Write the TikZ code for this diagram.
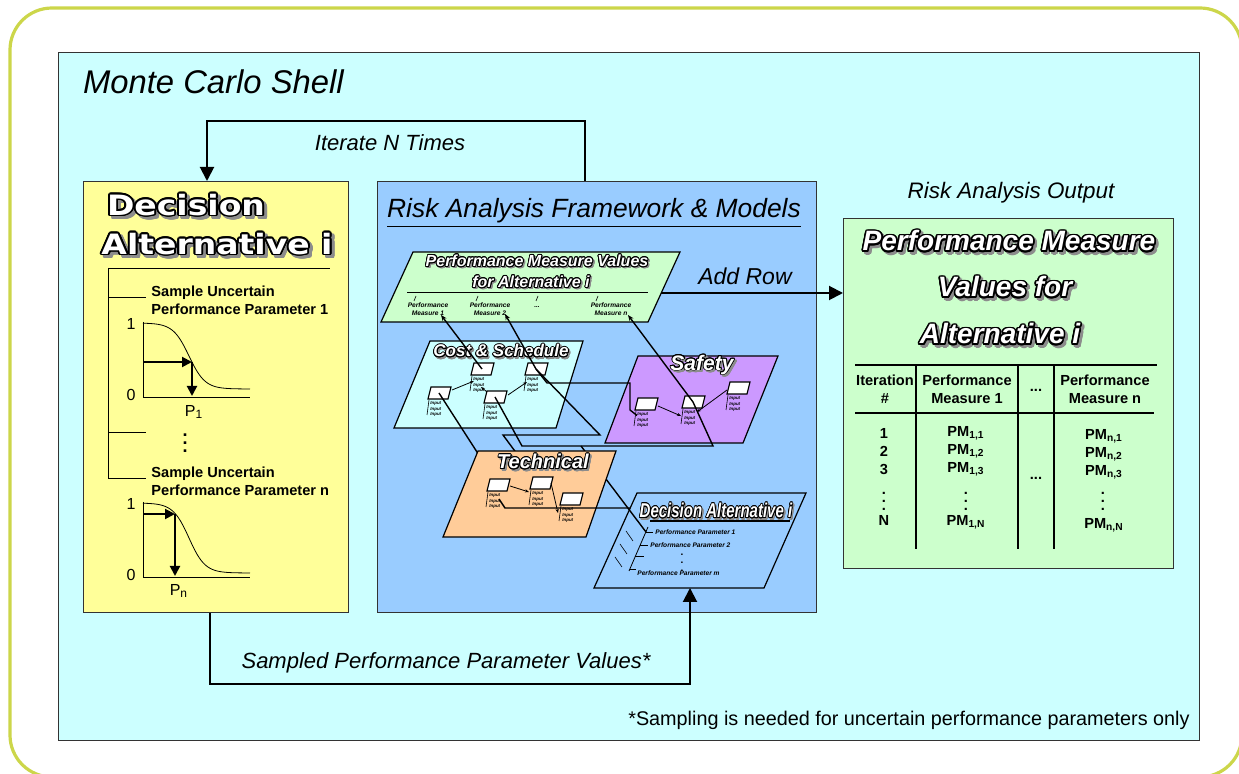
\documentclass[tikz,border=0pt]{standalone}
\usepackage{fontspec}
\setmainfont{Liberation Sans}
\newfontfamily\heavyfont{DejaVu Sans}
\usepackage{graphicx}
\usepackage[copies]{contour}
\usetikzlibrary{arrows.meta}

\definecolor{shellcyan}{HTML}{CCFFFF}
\definecolor{altyellow}{HTML}{FFFF99}
\definecolor{fwblue}{HTML}{99CCFF}
\definecolor{outgreen}{HTML}{CCFFCC}
\definecolor{safetyviolet}{HTML}{CC99FF}
\definecolor{techorange}{HTML}{FFCC99}
\definecolor{framelime}{HTML}{CCD64A}

% white letters, black outline, grey shadow
\newcommand{\wordart}[1]{\makebox[0pt][l]{\hspace{0.09em}\raisebox{-0.09em}{\contour{black!45}{\textcolor{black!45}{#1}}}}\contour{black}{\textcolor{white}{#1}}}
\newcommand{\PMv}[1]{PM\textsubscript{#1}}

% small model box with its inputs
\newcommand{\model}[3]{%
  \filldraw[fill=white, line width=0.6pt] (#2-11,#3+6) -- (#2-8,#3-6) -- (#2+12,#3-6) -- (#2+9,#3+6) -- cycle;
  \coordinate (#1) at (#2,#3);
  \node[inputs] (#1-in) at (#2-9,#3+8) {Input\\Input\\Input};
  \draw[line width=0.3pt] (#2-10,#3+7) -- (#2-12,#3+22);
}

\begin{document}
\begin{tikzpicture}[x=0.5pt, y=-0.5pt,
    panel/.style={draw=black!80, line width=0.6pt, anchor=north west, inner sep=0},
    plane/.style={draw=black, line width=0.6pt},
    flow/.style={line width=1pt, -{Triangle[length=7pt,width=7pt]}},
    link/.style={line width=0.7pt},
    linkarrow/.style={link, -{Stealth[length=3pt,width=2.4pt]}},
    modelarrow/.style={line width=0.4pt, -{Stealth[length=2pt,width=1.6pt]}},
    lbl/.style={font=\fontsize{11}{13}\selectfont\itshape},
    param/.style={font=\fontsize{7.3}{9}\selectfont\bfseries, align=left, anchor=west, inner sep=0},
    axislbl/.style={font=\fontsize{8}{9}\selectfont, inner sep=0},
    cell/.style={font=\fontsize{7.3}{9}\selectfont\bfseries, align=center, inner sep=0},
    inputs/.style={font=\fontsize{2.2}{2.8}\selectfont\bfseries\itshape, align=left, anchor=north west, inner sep=0},
    tiny/.style={font=\fontsize{3.3}{4.2}\selectfont\bfseries\itshape, align=center, inner sep=0},
    planetitle/.style={font=\fontsize{#1}{#1}\selectfont\bfseries\itshape\contourlength{0.45pt}, inner sep=0}]
\useasboundingbox (0,0) rectangle (1239,774);
\clip (0,0) rectangle (1239,774);

\draw[framelime, line width=1.6pt, rounded corners=21pt] (10,8) rectangle (1242,777);
\node[panel, fill=shellcyan, minimum width=570.5pt, minimum height=344pt] (shell) at (58,52) {};
\node[font=\fontsize{16.4}{19}\selectfont\itshape, anchor=west] (shelltitle) at (76,82) {Monte Carlo Shell};

% decision alternative
\node[panel, fill=altyellow, minimum width=132.5pt, minimum height=215.5pt] (dec) at (83,181) {};
\node[font=\heavyfont\bfseries\fontsize{14}{16}\selectfont\contourlength{0.8pt}, inner sep=0] (dectitle1) at (186,207) {\scalebox{1.18}[1]{\wordart{Decision}}};
\node[font=\heavyfont\bfseries\fontsize{14}{16}\selectfont\contourlength{0.8pt}, inner sep=0] (dectitle2) at (217,246) {\scalebox{1.18}[1]{\wordart{Alternative i}}};
\draw (108,268) -- (330,268);
\draw (108,268) -- (108,478);
\foreach \y in {297,432,478}
    \draw (108,\y) -- (146,\y);
\node[param] (par1) at (151,300) {Sample Uncertain\\Performance Parameter 1};
\node[param] (parn) at (151,481) {Sample Uncertain\\Performance Parameter n};
\node[font=\bfseries\fontsize{9}{9}\selectfont, inner sep=0] (pardots) at (185,437) {\vdots};
% first distribution
\draw (143,322) -- (143,397) -- (250,397);
\draw[domain=143:250, samples=60] plot (\x, {323+66/(1+exp(-(\x-189)/8))});
\draw[flow, -{Triangle[length=5pt,width=5pt]}] (143,362) -- (192,362);
\draw[flow, -{Triangle[length=5pt,width=5pt]}] (192,362) -- (192,396);
\node[axislbl] (g1one) at (131,324) {1};
\node[axislbl] (g1zero) at (131,395) {0};
\node[axislbl] (g1p) at (194,412) {P\textsubscript{1}};
% second distribution
\draw (143,502) -- (143,577) -- (250,577);
\draw[domain=143:250, samples=60] plot (\x, {503+70/(1+exp(-(\x-189)/8))});
\draw[flow, -{Triangle[length=5pt,width=5pt]}] (143,514) -- (175,514);
\draw[flow, -{Triangle[length=5pt,width=5pt]}] (175,514) -- (175,576);
\node[axislbl] (g2one) at (131,504) {1};
\node[axislbl] (g2zero) at (131,575) {0};
\node[axislbl] (g2p) at (179,591) {P\textsubscript{n}};

% framework
\node[panel, fill=fwblue, minimum width=219.5pt, minimum height=215.5pt] (fw) at (377,181) {};
\node[font=\fontsize{13.2}{15}\selectfont\itshape, inner sep=0] (fwtitle) at (594,213) {\underline{Risk Analysis Framework \& Models}};

% performance measure values
\filldraw[plane, fill=outgreen] (413,252) -- (680,252) -- (648,322) -- (381,322) -- cycle;
\coordinate (pmv-e) at (661,293);
\node[planetitle=8] (pmvtitle1) at (537,262) {\wordart{Performance Measure Values}};
\node[planetitle=8] (pmvtitle2) at (531,283) {\wordart{for Alternative i}};
\draw[line width=0.5pt] (407,293) -- (648,293);
\foreach \x in {416,478,538,598}
    \draw[line width=0.3pt] (\x,296) -- (\x-2,301);
\node[tiny] (pm1) at (428,309) {Performance\\Measure 1};
\node[tiny] (pm2) at (490,309) {Performance\\Measure 2};
\node[tiny] (pmdots) at (537,307) {...};
\node[tiny] (pmn) at (611,309) {Performance\\Measure n};
\coordinate (m1) at (441,315);
\coordinate (m2) at (505,314);
\coordinate (mn) at (628,315);

% decision alternative plane
\filldraw[plane, fill=fwblue] (637,493) -- (806,493) -- (764,588) -- (594,588) -- cycle;
\coordinate (da-b) at (690,588);
\node[planetitle=10] (datitle) at (716,512) {\scalebox{0.75}[1]{\wordart{Decision Alternative i}}};
\draw[line width=0.8pt] (650,521) -- (790,521);
\node[tiny, anchor=west] (pp1) at (655,532) {Performance Parameter 1};
\node[tiny, anchor=west] (pp2) at (650,545) {Performance Parameter 2};
\node[font=\bfseries\fontsize{5}{5}\selectfont, inner sep=0] (ppdots) at (682,557) {\vdots};
\node[tiny, anchor=west] (ppm) at (637,573) {Performance Parameter m};
\coordinate (dp1) at (646,532);
\draw[line width=0.4pt] (648,527) -- (629,571);
\draw[line width=0.4pt] (646,532) -- (653,532) (640,545) -- (648,545) (635,556) -- (644,556) (630,569) -- (636,569);
\foreach \x/\y in {626/531,620/544,615/557}
    \draw[line width=0.3pt] (\x,\y) -- ++(7,10);

% cost and safety
\filldraw[plane, fill=shellcyan] (430,341) -- (583,341) -- (556,428) -- (394,428) -- cycle;
\node[planetitle=8.5] (costtitle) at (501,352) {\wordart{Cost \& Schedule}};
\filldraw[plane, fill=safetyviolet] (638,356) -- (778,356) -- (743,443) -- (605,443) -- cycle;
\node[planetitle=10.5] (safetytitle) at (702,366) {\wordart{Safety}};
\model{cA}{482}{369}
\model{cB}{536}{369}
\model{cC}{439}{393}
\model{cD}{495}{397}
\draw[modelarrow] ([shift={(13,-3)}]cC) -- ([shift={(-8,12)}]cA);
\draw[modelarrow] ([shift={(-8,-5)}]cD) -- ([shift={(-14,-10)}]cD);
\draw[modelarrow] ([shift={(13,-2)}]cD) -- ([shift={(-9,13)}]cB);
\model{s1}{646}{404}
\model{s2}{693}{402}
\model{s3}{738}{388}
\draw[modelarrow] ([shift={(12,2)}]s1) -- ([shift={(-12,14)}]s2);
\draw[modelarrow] ([shift={(-11,2)}]s3) -- ([shift={(4,10)}]s2);

% links between the models
\draw[linkarrow] (cA) -- (m1);
\draw[linkarrow] (cB) -- (m2);
\draw[linkarrow] (s2) -- (mn);
\draw[link] (cB) -- (600,435) -- (503,435) -- (520,458);
\draw[link] (cB) -- (547,383) -- (630,383) -- (630,410) -- (s1-in);
\draw[link] (cD) -- (522,446) -- (713,446) -- (s2);
\draw[link] (581,446) -- (dp1);
\draw[link] (cC) -- (495,480);

% technical
\filldraw[plane, fill=techorange] (478,451) -- (616,451) -- (586,537) -- (443,537) -- cycle;
\node[planetitle=10] (techtitle) at (543,463) {\wordart{Technical}};
\model{t1}{498}{485}
\model{t2}{541}{483}
\model{t3}{571}{499}
\draw[modelarrow] ([shift={(12,1)}]t1) -- ([shift={(-12,9)}]t2);
\draw[modelarrow] ([shift={(10,0)}]t2) -- ([shift={(-13,14)}]t3);
\draw[link] ([shift={(1,14)}]t1) -- (505,508) -- (630,508);

% output
\node[panel, fill=outgreen, minimum width=165pt, minimum height=175pt] (out) at (843,218) {};
\node[lbl, font=\fontsize{11.2}{13}\selectfont\itshape] (outlbl) at (1011,193) {Risk Analysis Output};
\node[planetitle=14] (outtitle1) at (1009,243) {\contourlength{0.8pt}\wordart{Performance Measure}};
\node[planetitle=14] (outtitle2) at (1005,289) {\contourlength{0.8pt}\wordart{Values for}};
\node[planetitle=14] (outtitle3) at (1000,336) {\contourlength{0.8pt}\wordart{Alternative i}};
\draw[line width=0.6pt] (855,365) -- (1157,365);
\draw[line width=0.6pt] (855,413) -- (1154,413);
\foreach \x in {916,1018,1054}
    \draw[line width=0.6pt] (\x,365) -- (\x,549);
\node[cell] (hit) at (885,389) {Iteration\\\#};
\node[cell] (hpm1) at (967,389) {Performance\\Measure 1};
\node[cell] (hdots) at (1036,390) {...};
\node[cell] (hpmn) at (1105,389) {Performance\\Measure n};
\foreach \r/\y in {1/433,2/451,3/469} {
    \node[cell] (it\r) at (884,\y) {\r};
    \node[cell] (pma\r) at (966,\y) {\PMv{1,\r}};
    \node[cell] (pmn\r) at (1104,\y+3) {\PMv{n,\r}};
}
\node[cell] (itdots) at (884,495) {\vdots};
\node[cell] (pmadots) at (966,495) {\vdots};
\node[cell] (pmndots) at (1103,495) {\vdots};
\node[cell] (rowdots) at (1036,478) {...};
\node[cell] (itN) at (884,520) {N};
\node[cell] (pmaN) at (966,522) {\PMv{1,N}};
\node[cell] (pmnN) at (1104,525) {\PMv{n,N}};

% loop arrows
\draw[flow] (585,0 |- fw.north) |- (207,121) -- (207,0 |- dec.north);
\node[lbl] (iterlbl) at (390,143) {Iterate N Times};
\draw[flow] (pmv-e) -- (out.west |- pmv-e);
\node[lbl, font=\fontsize{11.5}{13}\selectfont\itshape] (addlbl) at (745,276) {Add Row};
\draw[flow] (210,0 |- dec.south) |- (690,684) -- (da-b);
\node[lbl] (samplbl) at (446,663) {Sampled Performance Parameter Values*};
\node[font=\fontsize{9.9}{12}\selectfont, anchor=east, inner sep=0] (footnote) at (1190,720) {*Sampling is needed for uncertain performance parameters only};
\end{tikzpicture}
\end{document}
